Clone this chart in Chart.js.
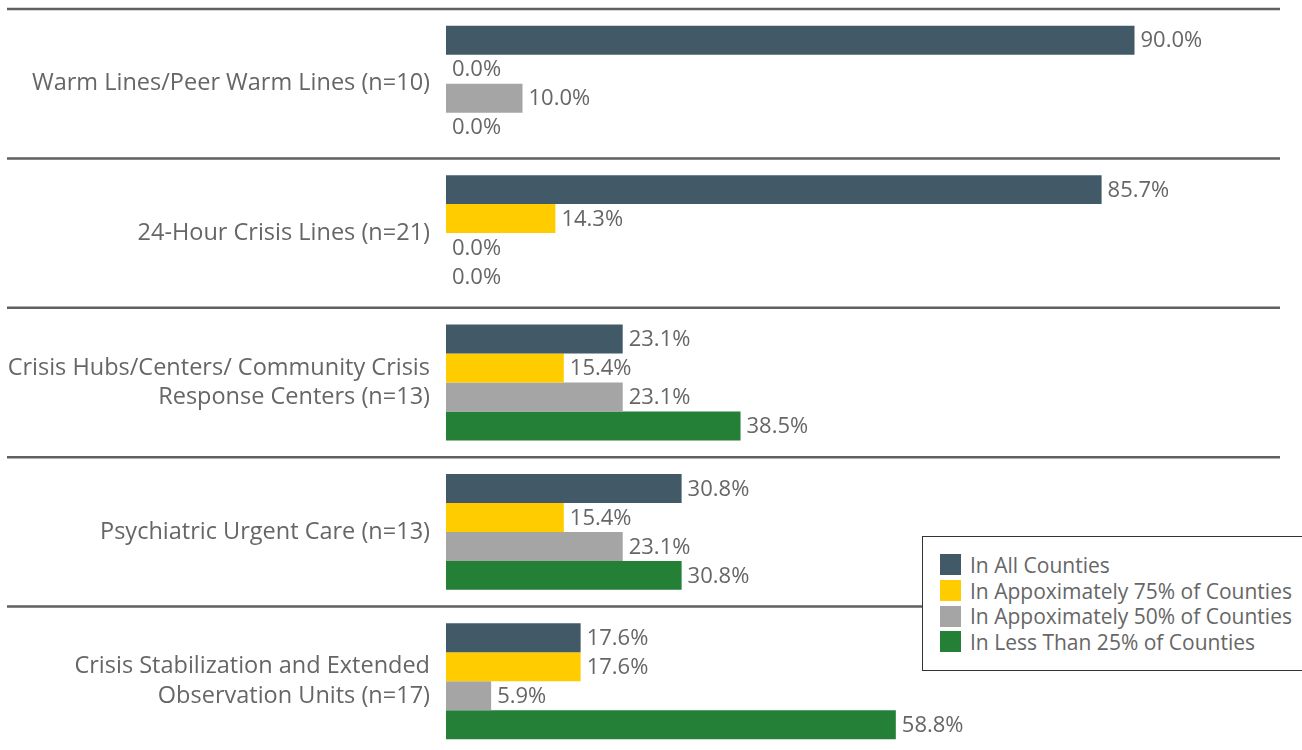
<!DOCTYPE html>
<html>
<head>
<meta charset="utf-8">
<script src="https://cdn.jsdelivr.net/npm/chart.js@4.4.0/dist/chart.umd.min.js"></script>
<style>
    html, body { margin: 0; padding: 0; background: #fff; overflow: hidden; }
    #wrap { position: relative; width: 1302px; height: 760px; }
    #legend {
        position: absolute; left: 922px; top: 536px; width: 420px; height: 135px;
        box-sizing: border-box; border: 1.5px solid #333; background: #fff;
        padding: 15px 0 0 17px; font-family: 'Open Sans', sans-serif; font-size: 21px; color: #666;
    }
    .legend-row { display: flex; align-items: center; height: 25.7px; }
    .legend-swatch { width: 21px; height: 21px; margin-right: 9px; flex: none; }
</style>
</head>
<body>
<div id="wrap">
    <canvas id="chart"></canvas>
    <div id="legend"></div>
</div>
<script>
const categories = [
    'Warm Lines/Peer Warm Lines (n=10)',
    '24-Hour Crisis Lines (n=21)',
    ['Crisis Hubs/Centers/ Community Crisis', 'Response Centers (n=13)'],
    'Psychiatric Urgent Care (n=13)',
    ['Crisis Stabilization and Extended', 'Observation Units (n=17)']
];
const seriesNames = [
    'In All Counties',
    'In Appoximately 75% of Counties',
    'In Appoximately 50% of Counties',
    'In Less Than 25% of Counties'
];
const allCounties = [90.0, 85.7, 23.1, 30.8, 17.6];
const approx75 = [0.0, 14.3, 15.4, 15.4, 17.6];
const approx50 = [10.0, 0.0, 23.1, 23.1, 5.9];
const lessThan25 = [0.0, 0.0, 38.5, 30.8, 58.8];
const colors = ['#425a68', '#ffcc00', '#a5a5a5', '#247f37'];

const textColor = '#666';
const fontFamily = "'Open Sans', sans-serif";

// horizontal rules between the service groups
const separators = {
    id: 'separators',
    beforeDatasetsDraw(chart) {
        const { ctx, chartArea } = chart;
        const n = chart.data.labels.length;
        const band = (chartArea.bottom - chartArea.top) / n;
        ctx.save();
        ctx.strokeStyle = '#606060';
        ctx.lineWidth = 2.5;
        for (let i = 0; i <= n; i++) {
            const y = chartArea.top + i * band;
            ctx.beginPath();
            ctx.moveTo(7, y);
            ctx.lineTo(1280, y);
            ctx.stroke();
        }
        ctx.restore();
    }
};

// percentage labels at the end of every bar
const valueLabels = {
    id: 'valueLabels',
    afterDatasetsDraw(chart) {
        const { ctx } = chart;
        ctx.save();
        ctx.font = `22px ${fontFamily}`;
        ctx.fillStyle = textColor;
        ctx.textBaseline = 'middle';
        ctx.textAlign = 'left';
        chart.data.datasets.forEach((ds, di) => {
            chart.getDatasetMeta(di).data.forEach((bar, i) => {
                ctx.fillText(ds.data[i].toFixed(1) + '%', bar.x + 6, bar.y + 1);
            });
        });
        ctx.restore();
    }
};

const chart = new Chart(document.getElementById('chart'), {
    type: 'bar',
    data: {
        labels: categories,
        datasets: [allCounties, approx75, approx50, lessThan25].map((d, i) => ({
            label: seriesNames[i],
            data: d,
            backgroundColor: colors[i],
            borderWidth: 0,
            barPercentage: 1,
            categoryPercentage: 0.776
        }))
    },
    options: {
        indexAxis: 'y',
        responsive: true,
        maintainAspectRatio: false,
        animation: false,
        layout: { padding: { top: 9, bottom: 4, left: 0, right: 91 } },
        plugins: {
            legend: { display: false },
            tooltip: { enabled: false }
        },
        scales: {
            x: { display: false, min: 0, max: 100 },
            y: {
                grid: { display: false, drawTicks: false },
                border: { display: false },
                ticks: {
                    color: textColor,
                    padding: 16,
                    font: { family: fontFamily, size: 23.5, lineHeight: 1.25 }
                },
                afterFit(scale) {
                    scale.width = 446;
                    scale.paddingTop = 0;
                    scale.paddingBottom = 0;
                }
            }
        }
    },
    plugins: [separators, valueLabels]
});

// legend box
document.getElementById('legend').innerHTML = chart.data.datasets.map(ds => `
    <div class="legend-row">
        <div class="legend-swatch" style="background:${ds.backgroundColor}"></div>
        <span>${ds.label}</span>
    </div>
`).join('');
</script>
</body>
</html>
